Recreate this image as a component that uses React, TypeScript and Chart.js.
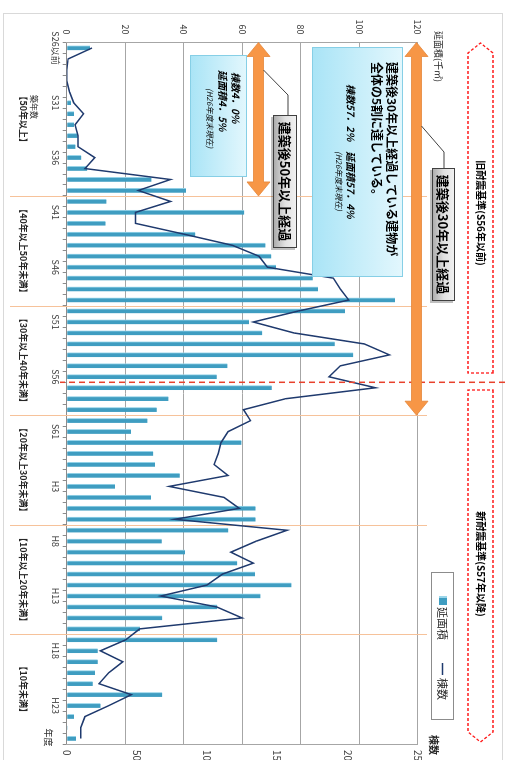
import React, { useEffect, useRef } from "react";
import { Chart, registerables } from "chart.js";

Chart.register(...registerables);

const FONT = '"Noto Sans CJK JP", "Noto Sans", sans-serif';

// 建築年度
const categories = [
  "S26以前", "S27", "S28", "S29", "S30", "S31", "S32", "S33", "S34", "S35",
  "S36", "S37", "S38", "S39", "S40", "S41", "S42", "S43", "S44", "S45",
  "S46", "S47", "S48", "S49", "S50", "S51", "S52", "S53", "S54", "S55",
  "S56", "S57", "S58", "S59", "S60", "S61", "S62", "S63", "H1", "H2",
  "H3", "H4", "H5", "H6", "H7", "H8", "H9", "H10", "H11", "H12",
  "H13", "H14", "H15", "H16", "H17", "H18", "H19", "H20", "H21", "H22",
  "H23", "H24", "H25", "H26",
];

// 表示する年度ラベル
const tickLabels = ["S26以前", "S31", "S36", "S41", "S46", "S51", "S56", "S61", "H3", "H8", "H13", "H18", "H23"];

// 延面積（千㎡）
const floorArea = [
  8, 0, 0, 0, 0, 1.5, 2.5, 2.5, 3.8, 3,
  5, 7, 29, 40.8, 13.6, 60.7, 13.3, 44, 68, 70,
  71.6, 84.2, 86, 112.3, 95.2, 62.4, 66.9, 91.7, 98, 55,
  51.3, 70.1, 34.8, 30.8, 27.6, 22, 59.8, 29.6, 30.2, 38.7,
  16.5, 28.8, 64.6, 64.6, 55.3, 32.5, 40.5, 58.3, 64.4, 76.9,
  66.3, 51.5, 32.7, 25.1, 51.5, 10.6, 10.6, 9.7, 8.9, 32.7,
  11.6, 2.5, 0.3, 3.2,
];

// 棟数
const buildingCount = [
  18, 1, 0, 0, 2, 5, 12, 6, 8, 8,
  20, 13, 74, 51, 74, 49, 49, 84, 118, 137,
  143, 190, 195, 201, 165, 133, 162, 212, 230, 195,
  187, 220, 156, 126, 131, 115, 110, 108, 105, 115,
  73, 112, 123, 77, 157, 135, 117, 133, 111, 100,
  67, 107, 125, 52, 42, 24, 40, 30, 23, 46,
  30, 13, 10, 10,
];

const areaTicks = { min: 0, max: 120, step: 20 };
const countTicks = { min: 0, max: 250, step: 50 };

// 築年数区分（開始インデックス）
const groupStarts = [0, 14, 24, 34, 44, 54];
const groupLabels = ["【50年以上】", "【40年以上50年未満】", "【30年以上40年未満】", "【20年以上30年未満】", "【10年以上20年未満】", "【10年未満】"];

function doubleArrow(ctx: CanvasRenderingContext2D, x1: number, x2: number, yc: number, shaft: number, head: number, headL: number, color: string) {
  ctx.beginPath();
  ctx.moveTo(x1, yc);
  ctx.lineTo(x1 + headL, yc - head / 2);
  ctx.lineTo(x1 + headL, yc - shaft / 2);
  ctx.lineTo(x2 - headL, yc - shaft / 2);
  ctx.lineTo(x2 - headL, yc - head / 2);
  ctx.lineTo(x2, yc);
  ctx.lineTo(x2 - headL, yc + head / 2);
  ctx.lineTo(x2 - headL, yc + shaft / 2);
  ctx.lineTo(x1 + headL, yc + shaft / 2);
  ctx.lineTo(x1 + headL, yc + head / 2);
  ctx.closePath();
  ctx.fillStyle = color;
  ctx.fill();
  ctx.strokeStyle = "#e5873a";
  ctx.lineWidth = 0.8;
  ctx.stroke();
}

function grayLabel(ctx: CanvasRenderingContext2D, x: number, y: number, w: number, h: number, text: string) {
  const g = ctx.createLinearGradient(0, y, 0, y + h);
  g.addColorStop(0, "#f2f2f2");
  g.addColorStop(0.5, "#e0e0e0");
  g.addColorStop(1, "#a8a8a8");
  ctx.fillStyle = "rgba(0,0,0,0.25)";
  ctx.fillRect(x + 2, y + 2, w, h);
  ctx.fillStyle = g;
  ctx.fillRect(x, y, w, h);
  ctx.strokeStyle = "#404040";
  ctx.lineWidth = 1;
  ctx.strokeRect(x + 0.5, y + 0.5, w - 1, h - 1);
  ctx.fillStyle = "#000";
  ctx.font = `bold 13px ${FONT}`;
  ctx.textAlign = "center";
  ctx.textBaseline = "middle";
  ctx.fillText(text, x + w / 2, y + h / 2 + 0.5);
}

function blueBox(ctx: CanvasRenderingContext2D, x: number, y: number, w: number, h: number) {
  const g = ctx.createLinearGradient(0, y, 0, y + h);
  g.addColorStop(0, "#e3f7fd");
  g.addColorStop(1, "#a9e4f6");
  ctx.fillStyle = g;
  ctx.fillRect(x, y, w, h);
  ctx.strokeStyle = "#86cfe6";
  ctx.lineWidth = 1;
  ctx.strokeRect(x + 0.5, y + 0.5, w - 1, h - 1);
}

function connector(ctx: CanvasRenderingContext2D, pts: number[][]) {
  ctx.beginPath();
  ctx.moveTo(pts[0][0], pts[0][1]);
  for (let i = 1; i < pts.length; i++) ctx.lineTo(pts[i][0], pts[i][1]);
  ctx.strokeStyle = "#404040";
  ctx.lineWidth = 1;
  ctx.stroke();
}

const annotationPlugin = {
  id: "annotations",
  beforeDatasetsDraw(chart: any) {
    const ctx: CanvasRenderingContext2D = chart.ctx;
    const xs = chart.scales.x;
    const step = xs.getPixelForValue(1) - xs.getPixelForValue(0);
    const edge = (k: number) => xs.getPixelForValue(k) - step / 2;
    ctx.save();
    ctx.strokeStyle = "#f6c29a";
    ctx.lineWidth = 1;
    groupStarts.slice(1).forEach((k) => {
      const x = Math.round(edge(k)) + 0.5;
      ctx.beginPath();
      ctx.moveTo(x, 84);
      ctx.lineTo(x, 501);
      ctx.stroke();
    });
    ctx.restore();
  },
  afterDraw(chart: any) {
    const ctx: CanvasRenderingContext2D = chart.ctx;
    const xs = chart.scales.x;
    const step = xs.getPixelForValue(1) - xs.getPixelForValue(0);
    const edge = (k: number) => xs.getPixelForValue(k) - step / 2;
    const n = categories.length;
    ctx.save();

    // frame
    ctx.strokeStyle = "#d9d9d9";
    ctx.lineWidth = 1;
    ctx.strokeRect(13.5, 8.5, 800, 499);

    // group labels
    ctx.fillStyle = "#262626";
    ctx.textAlign = "center";
    ctx.textBaseline = "middle";
    ctx.font = `bold 9px ${FONT}`;
    groupStarts.forEach((s, i) => {
      const e = i + 1 < groupStarts.length ? groupStarts[i + 1] : n;
      const cx = (edge(s) + edge(e)) / 2;
      ctx.fillText(groupLabels[i], cx, 488);
    });
    ctx.font = `8px ${FONT}`;
    ctx.fillText("築年数", 107, 477);

    // axis titles
    ctx.font = `9px ${FONT}`;
    ctx.textAlign = "left";
    ctx.fillStyle = "#262626";
    ctx.fillText("延面積(千㎡)", 31, 73);
    ctx.font = `bold 10px ${FONT}`;
    ctx.fillText("棟数", 735, 77);
    ctx.font = `9px ${FONT}`;
    ctx.textAlign = "center";
    ctx.fillText("年度", xs.getPixelForValue(n - 1) - 1, 463);

    // red dashed divider S56 / S57
    const xd = edge(31);
    ctx.setLineDash([6, 4]);
    ctx.strokeStyle = "#e8412c";
    ctx.lineWidth = 1.5;
    ctx.beginPath();
    ctx.moveTo(xd, 6);
    ctx.lineTo(xd, 451);
    ctx.stroke();

    // red dashed arrow boxes
    ctx.setLineDash([3, 2]);
    ctx.strokeStyle = "#ff1a1a";
    ctx.lineWidth = 1.3;
    const by1 = 18, by2 = 43, bm = (by1 + by2) / 2;
    ctx.beginPath();
    ctx.moveTo(373, by1);
    ctx.lineTo(53, by1);
    ctx.lineTo(43, bm);
    ctx.lineTo(53, by2);
    ctx.lineTo(373, by2);
    ctx.closePath();
    ctx.stroke();
    ctx.beginPath();
    ctx.moveTo(390, by1);
    ctx.lineTo(732, by1);
    ctx.lineTo(742, bm);
    ctx.lineTo(732, by2);
    ctx.lineTo(390, by2);
    ctx.closePath();
    ctx.stroke();
    ctx.setLineDash([]);
    ctx.fillStyle = "#000";
    ctx.font = `bold 10px ${FONT}`;
    ctx.textAlign = "center";
    ctx.fillText("旧耐震基準(S56年以前)", 213, bm);
    ctx.fillText("新耐震基準(S57年以降)", 564, bm);

    // orange arrows
    doubleArrow(ctx, edge(0), edge(34), 94.5, 10, 23, 14, "#f79646");
    doubleArrow(ctx, edge(0), edge(14), 252.5, 10, 23, 14, "#f79646");

    // connectors + gray labels
    connector(ctx, [[168, 67], [152, 67], [126, 89.5]]);
    grayLabel(ctx, 168, 56, 133, 23, "建築後30年以上経過");
    connector(ctx, [[115, 223], [95, 223], [70, 247.5]]);
    grayLabel(ctx, 115, 214, 133, 24, "建築後50年以上経過");

    // big info box
    blueBox(ctx, 47, 108, 230, 91);
    ctx.fillStyle = "#000";
    ctx.textAlign = "left";
    ctx.font = `bold 12px ${FONT}`;
    ctx.fillText("建築後30年以上経過している建物が", 62, 119);
    ctx.fillText("全体の5割に達している。", 62, 134);
    ctx.font = `italic bold 10px ${FONT}`;
    ctx.fillText("棟数57．2%　延面積57．4%", 84, 160);
    ctx.font = `italic 8px ${FONT}`;
    ctx.textAlign = "center";
    ctx.fillText("(H26年度末現在)", 181, 172);

    // small info box
    blueBox(ctx, 55, 264, 122, 57);
    ctx.fillStyle = "#000";
    ctx.textAlign = "left";
    ctx.font = `italic bold 10px ${FONT}`;
    ctx.fillText("棟数4．0%", 72, 275);
    ctx.fillText("延面積4．5%", 70, 288);
    ctx.font = `italic 8px ${FONT}`;
    ctx.fillText("(H26年度末現在)", 88, 301);

    // legend
    ctx.fillStyle = "#fff";
    ctx.fillRect(572.5, 57.5, 147, 22);
    ctx.strokeStyle = "#8c8c8c";
    ctx.lineWidth = 1;
    ctx.strokeRect(572.5, 57.5, 147, 22);
    ctx.fillStyle = "#3f9dc1";
    ctx.fillRect(596, 64, 9, 8);
    ctx.fillStyle = "#9bd6ea";
    ctx.fillRect(596, 64, 2, 8);
    ctx.strokeStyle = "#1f3a6e";
    ctx.lineWidth = 1.5;
    ctx.beginPath();
    ctx.moveTo(663, 68.5);
    ctx.lineTo(675, 68.5);
    ctx.stroke();
    ctx.fillStyle = "#262626";
    ctx.font = `11px ${FONT}`;
    ctx.textAlign = "left";
    ctx.textBaseline = "middle";
    ctx.fillText("延面積", 607, 68.5);
    ctx.fillText("棟数", 678, 68.5);

    ctx.restore();
  },
};

export default function App() {
  const ref = useRef<HTMLCanvasElement>(null);

  useEffect(() => {
    const canvas = ref.current;
    if (!canvas) return;
    Chart.defaults.font.family = FONT;
    const chart = new Chart(canvas, {
      type: "bar",
      data: {
        labels: categories,
        datasets: [
          {
            type: "line",
            label: "棟数",
            data: buildingCount,
            yAxisID: "y1",
            borderColor: "#1f3a6e",
            borderWidth: 1.5,
            pointRadius: 0,
            tension: 0,
            fill: false,
            order: 0,
          } as any,
          {
            type: "bar",
            label: "延面積",
            data: floorArea,
            yAxisID: "y",
            backgroundColor: "#3f9dc1",
            borderColor: "#9bd6ea",
            borderWidth: { left: 1, right: 0, top: 0, bottom: 0 },
            barThickness: 4.5,
            order: 1,
          } as any,
        ],
      },
      options: {
        responsive: false,
        maintainAspectRatio: false,
        animation: false,
        layout: { padding: { top: 93.5, bottom: 36.7, left: 0, right: 0 } },
        plugins: { legend: { display: false }, tooltip: { enabled: false } },
        scales: {
          x: {
            offset: true,
            grid: { drawOnChartArea: false, drawTicks: true, tickLength: 4, color: "#8c8c8c", offset: true },
            border: { display: true, color: "#8c8c8c" },
            ticks: {
              autoSkip: false,
              maxRotation: 0,
              minRotation: 0,
              padding: 2,
              color: "#404040",
              font: { size: 9, family: FONT },
              callback: (_v: any, i: number) => (tickLabels.includes(categories[i]) ? categories[i] : ""),
            },
            afterFit: (s: any) => {
              s.height = 30;
            },
          },
          y: {
            position: "left",
            min: areaTicks.min,
            max: areaTicks.max,
            ticks: { stepSize: areaTicks.step, padding: 8, color: "#404040", font: { size: 9, family: FONT } },
            grid: { color: "#a6a6a6", drawTicks: false },
            border: { display: true, color: "#a6a6a6" },
            afterFit: (s: any) => {
              s.width = 42.5;
            },
          },
          y1: {
            position: "right",
            min: countTicks.min,
            max: countTicks.max,
            ticks: { stepSize: countTicks.step, padding: 6, color: "#404040", font: { size: 10, family: FONT } },
            grid: { drawOnChartArea: false, drawTicks: false },
            border: { display: true, color: "#a6a6a6" },
            afterFit: (s: any) => {
              s.width = 16;
            },
          },
        },
      } as any,
      plugins: [annotationPlugin],
    });
    return () => chart.destroy();
  }, []);

  return (
    <div style={{ position: "fixed", left: 0, top: 0, width: 511, height: 760, overflow: "hidden", background: "#fff" }}>
      <div
        style={{
          position: "absolute",
          left: 0,
          top: 0,
          width: 760,
          height: 511,
          transformOrigin: "0 0",
          transform: "translate(511px, 0px) rotate(90deg)",
        }}
      >
        <canvas ref={ref} width={760} height={511} style={{ display: "block", width: 760, height: 511 }} />
      </div>
    </div>
  );
}
